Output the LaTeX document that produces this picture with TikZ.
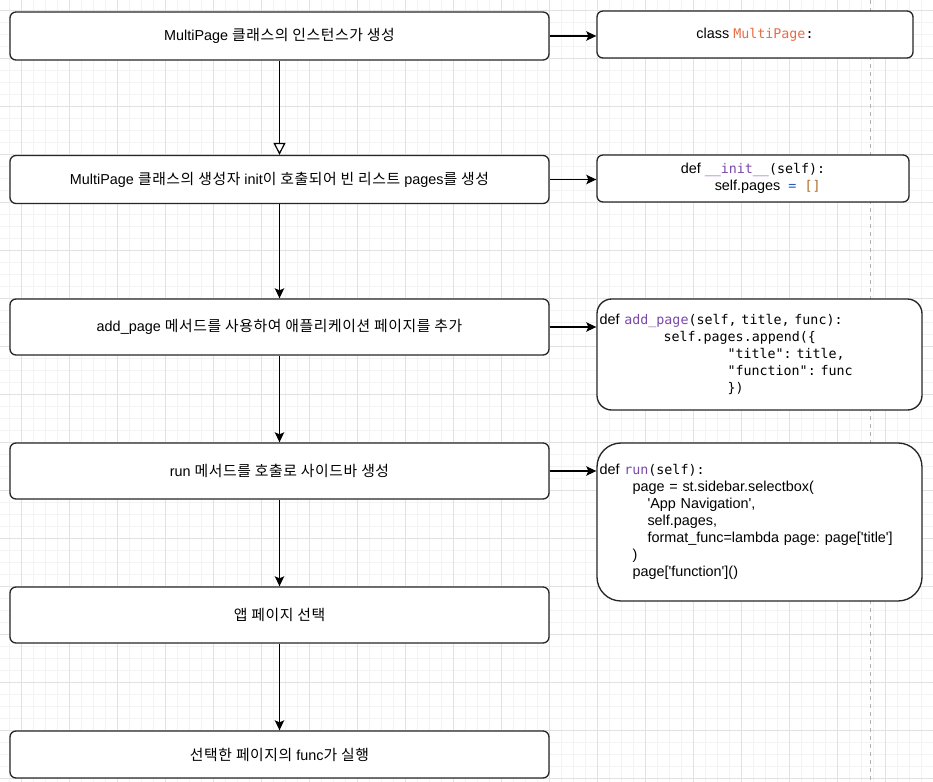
\documentclass[tikz,border=0pt]{standalone}
\usepackage{fontspec}
\setmainfont{Liberation Sans}
\newfontfamily\kofont[Scale=1.03, LetterSpace=4]{Noto Sans CJK KR}
\newfontfamily\codefont{DejaVu Sans Mono}
\usetikzlibrary{arrows.meta}

\definecolor{gridminor}{RGB}{243,243,243}
\definecolor{gridmajor}{RGB}{226,226,226}
\definecolor{fnpurple}{RGB}{121,72,170}
\definecolor{clsorange}{RGB}{230,108,70}
\definecolor{opblue}{RGB}{40,90,190}
\definecolor{brkbrown}{RGB}{175,110,40}

\newcommand{\ko}[1]{{\kofont #1}}
\newcommand{\mono}[1]{{\codefont\fontsize{10pt}{12.75pt}\selectfont #1}}

\begin{document}
\begin{tikzpicture}[x=0.75pt, y=-0.75pt,
		stepbox/.style={draw=black!85, line width=1pt, fill=white, rounded corners=4.5pt, minimum width=404.25pt, font=\fontsize{10.8pt}{13pt}\selectfont, align=center},
		codebox/.style={draw=black!85, line width=1pt, fill=white, font=\fontsize{10.8pt}{12.75pt}\selectfont\frenchspacing},
		flow/.style={line width=0.9pt, -{Stealth[length=7.5pt, width=7pt, inset=1.5pt]}}]
		\useasboundingbox (0,0) rectangle (933,782);
		\fill[white] (0,0) rectangle (933,782);
		\foreach \i in {0,...,77}
			\draw[gridminor, line width=0.75pt] ({9.5+12*\i},0) -- ({9.5+12*\i},782);
		\foreach \j in {0,...,65}
			\draw[gridminor, line width=0.75pt] (0,{10+12*\j}) -- (933,{10+12*\j});
		\foreach \i in {0,...,19}
			\draw[gridmajor, line width=0.75pt] ({21.5+48*\i},0) -- ({21.5+48*\i},782);
		\foreach \j in {0,...,16}
			\draw[gridmajor, line width=0.75pt] (0,{10+48*\j}) -- (933,{10+48*\j});
		\draw[black!30, line width=0.75pt, dash pattern=on 3pt off 3pt] (870,0) -- (870,782);
		
		\node[stepbox, minimum height=36pt] (inst) at (279.5,36) {MultiPage \ko{클래스의 인스턴스가 생성}};
		\node[stepbox, minimum height=36pt] (init) at (279.5,179.5) {MultiPage \ko{클래스의 생성자} init\ko{이 호출되어 빈 리스트} pages\ko{를 생성}};
		\node[stepbox, minimum height=42pt] (addpage) at (279.5,327) {add\_page \ko{메서드를 사용하여 애플리케이션 페이지를 추가}};
		\node[stepbox, minimum height=42pt] (run) at (279.5,471) {run \ko{메서드를 호출로 사이드바 생성}};
		\node[stepbox, minimum height=42pt] (pick) at (279.5,615) {\ko{앱 페이지 선택}};
		\node[stepbox, minimum height=35.25pt] (exec) at (279.5,754.5) {\ko{선택한 페이지의} func\ko{가 실행}};
		
		\node[codebox, rounded corners=4.5pt, minimum width=237pt, minimum height=35.25pt, align=center] (clsdef) at (755,34.5) {class \mono{\textcolor{clsorange}{MultiPage}:}};
		\node[codebox, rounded corners=4.5pt, minimum width=234pt, minimum height=35.25pt, align=center] (initdef) at (753,178.5) {def \mono{\textcolor{fnpurple}{\_\_init\_\_}(self):}\\\hspace*{22pt}self.pages\mono{\ \textcolor{opblue}{=}\ \textcolor{brkbrown}{[]}}};
		\node[codebox, rounded corners=11pt, minimum width=243.75pt, minimum height=83.25pt, inner xsep=1.5pt, text width=240pt, align=left] (adddef) at (759.5,354.5) {def \mono{\textcolor{fnpurple}{add\_page}(self, title, func):}\\
			\hspace*{48pt}\mono{self.pages.append(\{}\\
			\hspace*{96pt}\mono{"title": title,}\\
			\hspace*{96pt}\mono{"function": func}\\
			\hspace*{96pt}\mono{\})}};
		\node[codebox, rounded corners=18pt, minimum width=243.75pt, minimum height=118.5pt, inner xsep=1.5pt, text width=240pt, align=left] (rundef) at (759.5,522) {def \mono{\textcolor{fnpurple}{run}(self):}\\
			\hspace*{24.75pt}page = st.sidebar.selectbox(\\
			\hspace*{36pt}\textquotesingle App Navigation\textquotesingle,\\
			\hspace*{36pt}self.pages,\\
			\hspace*{36pt}format\_func=lambda page: page[\textquotesingle title\textquotesingle]\\
			\hspace*{24.75pt})\\
			\hspace*{24.75pt}page[\textquotesingle function\textquotesingle]()};
		
		\draw[flow, -{Triangle[open, fill=white, length=9pt, width=9pt]}] (inst) -- (init);
		\draw[flow] (init) -- (addpage);
		\draw[flow] (addpage) -- (run);
		\draw[flow] (run) -- (pick);
		\draw[flow] (pick) -- (exec);
		
		\draw[flow] (inst.east) -- (inst.east -| clsdef.west);
		\draw[flow] (init.east) -- (init.east -| initdef.west);
		\draw[flow] (addpage.east) -- (addpage.east -| adddef.west);
		\draw[flow] (run.east) -- (run.east -| rundef.west);
	\end{tikzpicture}
\end{document}
